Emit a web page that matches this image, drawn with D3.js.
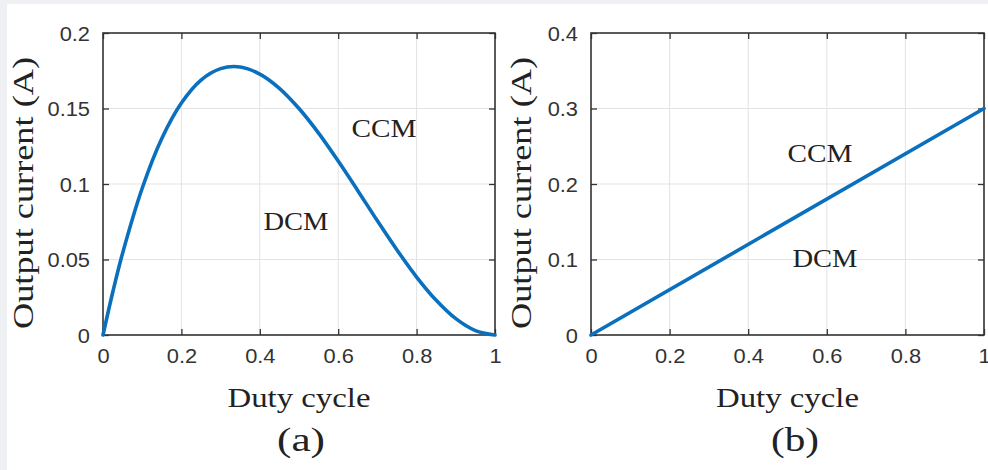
<!DOCTYPE html>
<html><head><meta charset="utf-8">
<script src="https://cdn.jsdelivr.net/npm/d3@7/dist/d3.min.js"></script>
<style>
html,body{margin:0;padding:0;background:#eef0f3;}
svg{display:block;}
</style></head>
<body>
<svg id="chart" width="988" height="470"></svg>
<script>
// ---- data ----
const dutyA = [0,0.025,0.05,0.1,0.15,0.2,0.25,0.3,0.35,0.4,0.45,0.5,0.55,0.6,0.65,0.7,0.75,0.8,0.85,0.9,0.95,1];
const currentA = [0,0.0285,0.0542,0.0972,0.1301,0.1536,0.1688,0.1764,0.1775,0.1728,0.1634,0.150,0.1337,0.1152,0.0956,0.0756,0.0563,0.0384,0.0230,0.0108,0.0029,0];
const dutyB = [0,1];
const currentB = [0,0.30];
const xTicks = [0,0.2,0.4,0.6,0.8,1];
const yTicksA = [0,0.05,0.1,0.15,0.2];
const yTicksB = [0,0.1,0.2,0.3,0.4];
const xTitle = "Duty cycle";
const yTitle = "Output current (A)";

const svg = d3.select("#chart");
svg.append("rect").attr("x",7).attr("y",4).attr("width",981).attr("height",466).attr("fill","#fff");

function panel(cfg){
  const x = d3.scaleLinear().domain([0,1]).range([cfg.left,cfg.right]);
  const y = d3.scaleLinear().domain(cfg.yDomain).range([cfg.bottom,cfg.top]);
  const g = svg.append("g");
  // grid
  g.selectAll(".gx").data(xTicks.slice(1,-1)).join("line")
    .attr("x1",d=>x(d)).attr("x2",d=>x(d)).attr("y1",cfg.top).attr("y2",cfg.bottom)
    .attr("stroke","#e3e3e3").attr("stroke-width",1);
  g.selectAll(".gy").data(cfg.yTicks.slice(1,-1)).join("line")
    .attr("y1",d=>y(d)).attr("y2",d=>y(d)).attr("x1",cfg.left).attr("x2",cfg.right)
    .attr("stroke","#e3e3e3").attr("stroke-width",1);
  // axes via d3 axis (inward ticks)
  const fmt = d=>d3.format("")(+d.toFixed(2));
  const ax = g.append("g").attr("transform",`translate(0,${cfg.bottom})`)
    .call(d3.axisBottom(x).tickValues(xTicks).tickSize(-6).tickPadding(14).tickFormat(fmt));
  const axT = g.append("g").attr("transform",`translate(0,${cfg.top})`)
    .call(d3.axisTop(x).tickValues(xTicks).tickSize(-6).tickFormat(""));
  const ay = g.append("g").attr("transform",`translate(${cfg.left},0)`)
    .call(d3.axisLeft(y).tickValues(cfg.yTicks).tickSize(-6).tickPadding(13).tickFormat(fmt));
  const ayR = g.append("g").attr("transform",`translate(${cfg.right},0)`)
    .call(d3.axisRight(y).tickValues(cfg.yTicks).tickSize(-6).tickFormat(""));
  [ax,axT,ay,ayR].forEach(a=>{
    a.select(".domain").remove();
    a.selectAll(".tick line").attr("stroke","#333").attr("stroke-width",1.3);
  });
  const styleTick = sel => sel.attr("font-family","'Liberation Sans',Arial,sans-serif")
    .attr("font-size",19.5).attr("fill","#333")
    .each(function(){ const t=d3.select(this); const w=this.getComputedTextLength(); t.attr("textLength",w*1.12).attr("lengthAdjust","spacingAndGlyphs"); });
  styleTick(ax.selectAll(".tick text").attr("dy","0.71em"));
  styleTick(ay.selectAll(".tick text").attr("dy","0.36em"));
  // box
  g.append("rect").attr("x",cfg.left).attr("y",cfg.top)
    .attr("width",cfg.right-cfg.left).attr("height",cfg.bottom-cfg.top)
    .attr("fill","none").attr("stroke","#333").attr("stroke-width",1.6);
  // line
  const line = d3.line().x(d=>x(d[0])).y(d=>y(d[1])).curve(d3.curveCatmullRom);
  g.append("path").datum(cfg.xs.map((d,i)=>[d,cfg.ys[i]]))
    .attr("d",line).attr("fill","none").attr("stroke","#0a6fbd").attr("stroke-width",3.6)
    .attr("stroke-linecap","round");
  const serif = "'Liberation Serif','Times New Roman',serif";
  const serifText = (sel, size) => sel.attr("font-family",serif).attr("font-size",size)
    .attr("fill","#222").attr("lengthAdjust","spacingAndGlyphs");
  // x title
  serifText(g.append("text").attr("x",(cfg.left+cfg.right)/2).attr("y",407).attr("text-anchor","middle"),28)
    .attr("textLength",143).text(xTitle);
  // y title
  serifText(g.append("text").attr("transform",`translate(${cfg.yTitleX},193) rotate(-90)`)
    .attr("text-anchor","middle"),29).attr("textLength",272).text(yTitle);
  // panel label
  serifText(g.append("text").attr("x",cfg.labelX).attr("y",451).attr("text-anchor","middle"),33)
    .attr("textLength",48).text(cfg.label);
  // annotations
  cfg.notes.forEach(n=>{
    serifText(g.append("text").attr("x",n.x).attr("y",n.y).attr("text-anchor","middle"),25.5)
      .attr("textLength",65).text(n.t);
  });
}

panel({left:103,right:495,top:33,bottom:335,yDomain:[0,0.2],yTicks:yTicksA,
  xs:dutyA,ys:currentA,yTitleX:33,labelX:301,label:"(a)",
  notes:[{t:"CCM",x:384,y:137},{t:"DCM",x:296,y:230}]});
panel({left:591,right:984,top:33,bottom:335,yDomain:[0,0.4],yTicks:yTicksB,
  xs:dutyB,ys:currentB,yTitleX:531,labelX:795,label:"(b)",
  notes:[{t:"CCM",x:820,y:162},{t:"DCM",x:825,y:267}]});
</script>
</body></html>
